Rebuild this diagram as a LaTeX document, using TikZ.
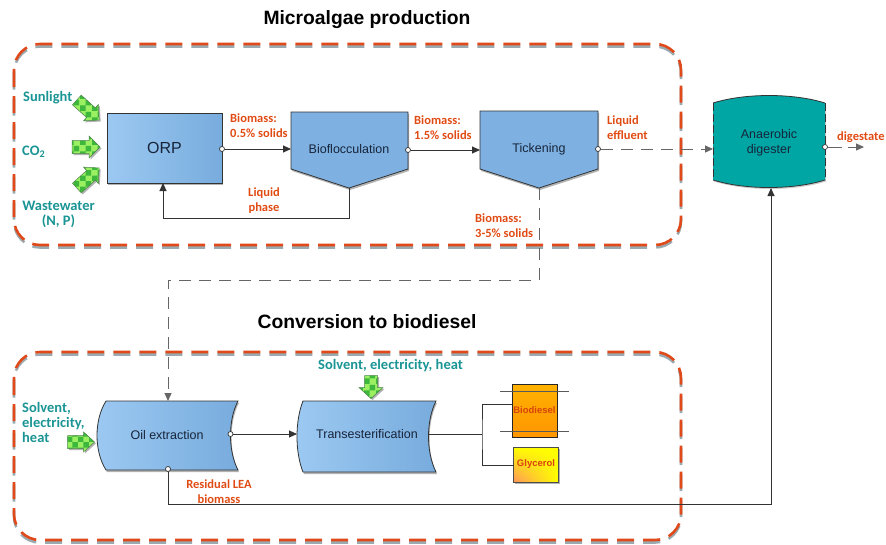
\documentclass[tikz,border=0pt]{standalone}
\usepackage{fontspec}
\setmainfont{Liberation Sans}
\newfontfamily\calfont{Carlito}
\usetikzlibrary{arrows.meta,shadows,patterns,shadings}
\definecolor{tealtxt}{HTML}{1A9494}
\definecolor{orng}{HTML}{E04B14}
\definecolor{dashor}{HTML}{E04A1A}
\definecolor{dashsh}{HTML}{9AAAB0}
\definecolor{blueL}{HTML}{9CC9F2}
\definecolor{blueR}{HTML}{78ACDD}
\definecolor{blueP}{HTML}{7EB1E2}
\definecolor{digc}{HTML}{00A6A4}
\definecolor{grnA}{HTML}{9AF060}
\definecolor{grnB}{HTML}{3DB83D}
\definecolor{lineg}{HTML}{333333}
\definecolor{navy}{HTML}{17243A}
\definecolor{glyor}{HTML}{FF965A}
\definecolor{prodtxt}{HTML}{D8420C}
\tikzset{
  tlab/.style={text=tealtxt, font=\calfont\bfseries\fontsize{14.5}{15}\selectfont, inner sep=0},
  olab/.style={text=orng, font=\calfont\bfseries\fontsize{12.5}{15}\selectfont, inner sep=0},
  ntext/.style={font=\fontsize{12.5}{15}\selectfont, text=navy, inner sep=0},
  conn/.style={draw=lineg, line width=0.9pt},
  arr/.style={-{Triangle[length=8pt,width=7pt]}},
  dconn/.style={draw=black!60, line width=1pt, dash pattern=on 12pt off 8pt},
  port/.style={circle, draw=lineg, fill=white, inner sep=0pt, minimum size=5pt, line width=0.7pt},
  shd/.style={drop shadow={shadow xshift=1pt, shadow yshift=-2pt, fill=black, opacity=0.3}},
  garrowp/.style={draw=green!30!black!70, line width=0.5pt,
     drop shadow={shadow xshift=1.5pt, shadow yshift=-1.5pt, fill=black, opacity=0.3},
     preaction={fill=grnA}, pattern=checkerboard, pattern color=grnB},
  zone/.style={line width=2.6pt, dash pattern=on 17pt off 9pt, rounded corners=26pt},
}
\newcommand{\greenarrow}[5]{% x, y, angle, length, headhalf
  \path[garrowp, shift={(#1,#2)}, rotate=#3]
   (-#4/2,-6.5) -- (#4/2-11,-6.5) -- (#4/2-11,-#5) -- (#4/2,0) -- (#4/2-11,#5) -- (#4/2-11,6.5) -- (-#4/2,6.5) -- cycle;}
\begin{document}
\begin{tikzpicture}[x=1pt,y=-1pt]
\useasboundingbox (0,0) rectangle (886,544);
% zones
\draw[zone, dashsh] (14,46.5) rectangle (681,247.5);
\draw[zone, dashor] (14,44) rectangle (681,245);
\draw[zone, dashsh] (14,354.5) rectangle (681,542.5);
\draw[zone, dashor] (14,352) rectangle (681,540);
\node[font=\bfseries\fontsize{19.3}{21}\selectfont] (t1) at (367,20) {Microalgae production};
\node[font=\bfseries\fontsize{19.3}{21}\selectfont] (t2) at (367,322) {Conversion to biodiesel};

% inputs
\node[tlab, anchor=west] (sun) at (23,98) {Sunlight};
\node[tlab, anchor=west] (co2) at (22,152) {CO\textsubscript{2}};
\node[tlab, align=center] (ww) at (58.5,214.5) {Wastewater\\(N, P)};
\greenarrow{88}{110}{-42}{30}{11}
\greenarrow{86}{147}{0}{28}{11}
\greenarrow{88}{178}{42}{30}{11}

% ORP
\node[draw=lineg, line width=0.8pt, left color=blueL, right color=blueR, minimum width=115pt, minimum height=70pt, font=\fontsize{16}{18}\selectfont, text=navy, shd] (orp) at (164.5,148) {ORP};
\coordinate (orpB) at (163,183);

% Bioflocculation
\path[draw=lineg, line width=0.8pt, fill=blueP, shd] (291,112) -- (408,112) -- (408,169) -- (349,188) -- (291,169) -- cycle;
\node[ntext] (bf) at (349,149) {Bioflocculation};
\coordinate (bfL) at (291,149);
\coordinate (bfB) at (349,188);

% Tickening
\path[draw=lineg, line width=0.8pt, fill=blueP, shd] (480,111) -- (598,111) -- (598,169) -- (539,188) -- (480,169) -- cycle;
\node[ntext] (tk) at (539,149) {Tickening};
\coordinate (tkL) at (480,150);
\coordinate (tkB) at (539,188);

% Digester
\path[fill=digc, drop shadow={shadow xshift=1pt, shadow yshift=-1.5pt, fill=black, opacity=0.2}] (713,103) .. controls (745,93) and (793,93) .. (825,103) -- (825,180) .. controls (793,190) and (745,190) .. (713,180) -- cycle;
\draw[lineg, line width=0.8pt] (713,103) .. controls (745,93) and (793,93) .. (825,103);
\draw[lineg, line width=0.8pt] (825,180) .. controls (793,190) and (745,190) .. (713,180);
\draw[lineg, line width=0.8pt, dash pattern=on 8pt off 3pt] (713,103) -- (713,180) (825,103) -- (825,180);
\node[ntext, align=center] (dig) at (769,143) {Anaerobic\\digester};
\coordinate (digL) at (713,149);
\coordinate (digB) at (771,188);
\coordinate (dgo) at (864,147);

% connectors top
\node[port] (pORP) at (222,149) {};
\draw[conn, arr] (pORP) -- (bfL);
\node[port] (pBF) at (408,150) {};
\draw[conn, arr] (pBF) -- (tkL);
\node[port] (pTK) at (598,149) {};
\draw[dconn, arr] (pTK) -- (digL);
\node[port] (pDG) at (825,147) {};
\draw[dconn, dash pattern=on 14pt off 6pt, arr] (pDG) -- (dgo);
\coordinate (lpc) at (163,218);
\draw[conn, arr] (bfB) |- (lpc) -- (orpB);

% labels top
\node[olab, anchor=west, align=left] (l1) at (230,125.5) {Biomass:\\0.5\% solids};
\node[olab, align=center] (l2) at (264,200.5) {Liquid\\phase};
\node[olab, anchor=west, align=left] (l3) at (414,127.5) {Biomass:\\1.5\% solids};
\node[olab, anchor=west, align=left] (l4) at (475,225.5) {Biomass:\\3-5\% solids};
\node[olab, anchor=west, align=left] (l5) at (607,127.5) {Liquid\\effluent};
\node[olab, anchor=west] (l6) at (837,137) {digestate};

% Oil extraction
\path[draw=lineg, line width=0.8pt, left color=blueL, right color=blueR, shd] (106,401) -- (238,401) .. controls (228,420) and (228,451) .. (238,470) -- (106,470) .. controls (94,451) and (94,420) .. (106,401) -- cycle;
\node[ntext] (oe) at (167,435) {Oil extraction};
\coordinate (oeT) at (168,401);
\coordinate (bend1) at (168,280);
\draw[dconn, arr] (tkB) |- (bend1) -- (oeT);

% Transesterification
\path[draw=lineg, line width=0.8pt, left color=blueL, right color=blueR, shd] (303,401) -- (436,401) .. controls (426,421) and (426,452) .. (436,472) -- (303,472) .. controls (295,452) and (295,421) .. (303,401) -- cycle;
\node[ntext] (tr) at (367,434) {Transesterification};
\coordinate (trL) at (297,434);
\coordinate (trR) at (428.5,434);

\node[port] (pOE) at (230.5,434) {};
\draw[conn, arr] (pOE) -- (trL);
\node[port] (pOEb) at (168,469) {};
\coordinate (rb) at (771,504);
\draw[conn, arr] (pOEb) |- (rb) -- (digB);

% inputs bottom
\node[tlab, anchor=west, align=left] (solv) at (22,422) {Solvent,\\electricity,\\heat};
\greenarrow{81}{442}{0}{27}{10}
\node[tlab] (solv2) at (390.5,366) {Solvent, electricity, heat};
\greenarrow{371}{387}{-90}{23}{12}

% products
\node[draw=black!85, line width=0.8pt, minimum width=45pt, minimum height=53pt, inner sep=0pt, top color={rgb,255:red,255;green,178;blue,0}, bottom color={rgb,255:red,255;green,150;blue,0}, font=\bfseries\fontsize{9.5}{11}\selectfont, text=prodtxt] (bd) at (534.5,410.5) {Biodiesel};
\node[draw=black!70, line width=0.8pt, minimum width=45pt, minimum height=35pt, inner sep=0pt, upper left=yellow, upper right=yellow, lower right=yellow, lower left=glyor, font=\bfseries\fontsize{9.5}{11}\selectfont, text=prodtxt, shd] (gl) at (536,464.5) {Glycerol};
\coordinate (bd1a) at (500,391); \coordinate (bd1b) at (569,391);
\coordinate (bd2a) at (500,431); \coordinate (bd2b) at (569,431);
\draw[black!65, line width=1pt] (bd1a) -- (bd1b) (bd2a) -- (bd2b);
\coordinate (bdL) at (512,404);
\coordinate (glL) at (513.5,465);
\coordinate (jn) at (482,434);
\draw[conn] (trR) -- (jn);
\draw[conn] (bdL) -| (jn) |- (glL);

\node[olab, align=center] (res) at (219,492) {Residual LEA\\biomass};
\end{tikzpicture}
\end{document}
